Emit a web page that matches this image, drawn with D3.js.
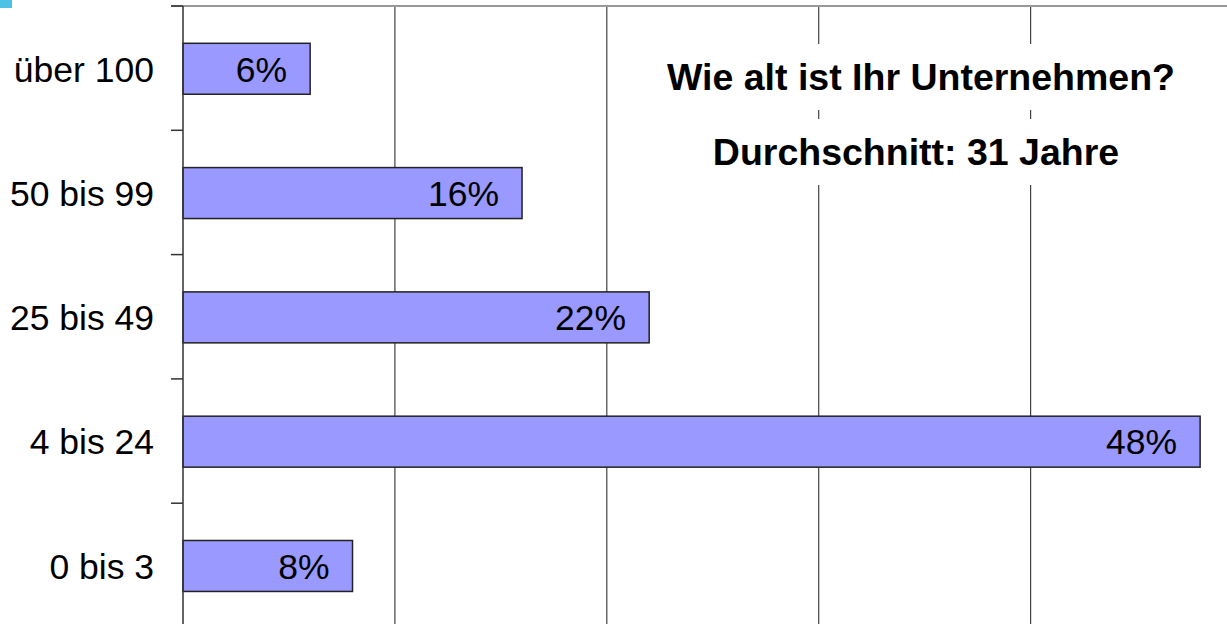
<!DOCTYPE html>
<html>
<head>
<meta charset="utf-8">
<script src="https://cdn.jsdelivr.net/npm/d3@7"></script>
<style>
  body { margin: 0; background: #fff; }
  svg { display: block; font-family: "Liberation Sans", Arial, sans-serif; }
</style>
</head>
<body>
<div id="chart"></div>
<script>
// data
var categories = ["über 100", "50 bis 99", "25 bis 49", "4 bis 24", "0 bis 3"];
var values = [6, 16, 22, 48, 8];
var gridTicks = [10, 20, 30, 40];
var titleLines = ["Wie alt ist Ihr Unternehmen?", "Durchschnitt: 31 Jahre"];

var svgWidth = 1227;
var svgHeight = 624;

var svg = d3.select("#chart")
  .append("svg")
  .attr("width", svgWidth)
  .attr("height", svgHeight);

// scales (plot area is cut off on the right and bottom in the original)
var x = d3.scaleLinear().domain([0, 50]).range([183, 1242.5]);
var y = d3.scaleBand().domain(categories).range([6, 627.5]);
var step = y.step();

// little cyan mark in the corner
svg.append("rect")
  .attr("x", 0).attr("y", 0)
  .attr("width", 12).attr("height", 8)
  .attr("fill", "#4cc3e3");

// vertical gridlines
svg.append("g").selectAll("line")
  .data(gridTicks).enter().append("line")
  .attr("x1", d => x(d)).attr("x2", d => x(d))
  .attr("y1", 6).attr("y2", svgHeight)
  .attr("stroke", "#444")
  .attr("stroke-width", 1.2);

// top border of plot area
svg.append("line")
  .attr("x1", 171).attr("x2", svgWidth)
  .attr("y1", 6).attr("y2", 6)
  .attr("stroke", "#999")
  .attr("stroke-width", 2);

// category tick marks at band edges
var edges = categories.map(c => y(c));
svg.append("g").selectAll("line")
  .data(edges).enter().append("line")
  .attr("x1", 171).attr("x2", 183)
  .attr("y1", d => d).attr("y2", d => d)
  .attr("stroke", "#333")
  .attr("stroke-width", 1.5);

// title with white boxes behind it
var titleG = svg.append("g");
titleLines.forEach(function(t, i) {
  var g = titleG.append("g");
  var txt = g.append("text")
    .attr("x", 921 - i * 5)
    .attr("y", 90 + i * 75)
    .attr("text-anchor", "middle")
    .attr("font-size", 37.5)
    .attr("font-weight", "bold")
    .attr("fill", "#000")
    .text(t);
  var bb = txt.node().getBBox();
  g.insert("rect", "text")
    .attr("x", bb.x - 20)
    .attr("y", 90 + i * 75 - 46)
    .attr("width", bb.width + 40)
    .attr("height", 66)
    .attr("fill", "#fff");
});

// bars
svg.append("g").selectAll("rect")
  .data(values).enter().append("rect")
  .attr("x", x(0))
  .attr("y", (d, i) => y(categories[i]) + step * 0.3)
  .attr("width", d => x(d) - x(0))
  .attr("height", step * 0.41)
  .attr("fill", "#9999ff")
  .attr("stroke", "#222")
  .attr("stroke-width", 1.5);

// value labels inside bars
svg.append("g").selectAll("text")
  .data(values).enter().append("text")
  .attr("x", d => x(d) - 23)
  .attr("y", (d, i) => y(categories[i]) + step * 0.505)
  .attr("dy", "0.36em")
  .attr("text-anchor", "end")
  .attr("font-size", 35.5)
  .attr("fill", "#000")
  .text(d => d + "%");

// category labels
svg.append("g").selectAll("text")
  .data(categories).enter().append("text")
  .attr("x", 154)
  .attr("y", d => y(d) + step * 0.505)
  .attr("dy", "0.36em")
  .attr("text-anchor", "end")
  .attr("font-size", 35.5)
  .attr("fill", "#000")
  .text(d => d);

// value axis line
svg.append("line")
  .attr("x1", x(0)).attr("x2", x(0))
  .attr("y1", 6).attr("y2", svgHeight)
  .attr("stroke", "#333")
  .attr("stroke-width", 1.5);
</script>
</body>
</html>
